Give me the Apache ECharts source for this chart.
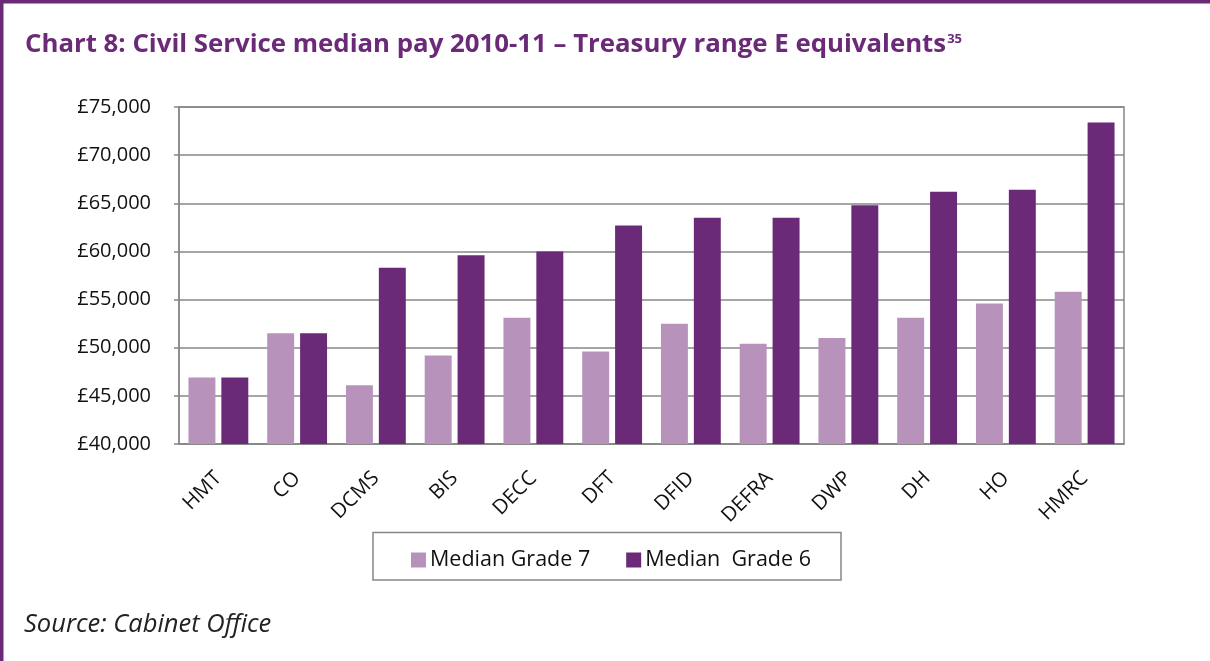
<!DOCTYPE html>
<html>
<head>
<meta charset="utf-8">
<script src="https://cdn.jsdelivr.net/npm/echarts@6/dist/echarts.min.js"></script>
<style>
html,body{margin:0;padding:0;background:#fff;}
#chart{width:1210px;height:661px;}
</style>
</head>
<body>
<div id="chart"></div>
<script>
const categories = ['HMT','CO','DCMS','BIS','DECC','DFT','DFID','DEFRA','DWP','DH','HO','HMRC'];
const grade7 = [46900, 51500, 46100, 49200, 53100, 49600, 52500, 50400, 51000, 53100, 54600, 55800];
const grade6 = [46900, 51500, 58300, 59600, 60000, 62700, 63500, 63500, 64800, 66200, 66400, 73400];
const seriesNames = ['Median Grade 7', 'Median  Grade 6'];
const yTicks = {min: 40000, max: 75000, interval: 5000};

const purple = '#6B2A78';
const lilac = '#B793BC';
const grey = '#878787';
const font = 'Open Sans';

const chart = echarts.init(document.getElementById('chart'));
chart.setOption({
  animation: false,
  backgroundColor: '#fff',
  textStyle: {fontFamily: font},
  title: {
    left: 20, top: 27,
    text: '{t|Chart 8: Civil Service median pay 2010-11 \u2013 Treasury range E equivalents}{s|35}',
    textStyle: {
      rich: {
        t: {fontFamily: font, fontSize: 25.8, fontWeight: 'bold', color: purple, verticalAlign: 'bottom'},
        s: {fontFamily: font, fontSize: 13, fontWeight: 'bold', color: purple, verticalAlign: 'bottom', padding: [0,0,12,1]}
      }
    }
  },
  grid: {left: 179, top: 107, right: 86, bottom: 217, show: true, borderColor: grey, borderWidth: 1.5, containLabel: false},
  legend: {
    left: 406, top: 544,
    itemWidth: 15, itemHeight: 15, itemGap: 36,
    icon: 'rect',
    textStyle: {fontFamily: font, fontSize: 21.5, color: '#111', padding: [0,0,0,-1]},
    data: seriesNames
  },
  xAxis: {
    type: 'category',
    data: categories,
    axisLine: {lineStyle: {color: grey, width: 1.5}},
    axisTick: {show: false},
    axisLabel: {rotate: 45, fontSize: 20.5, color: '#111', margin: 31, interval: 0, fontFamily: font}
  },
  yAxis: {
    type: 'value',
    min: yTicks.min, max: yTicks.max, interval: yTicks.interval,
    axisLine: {show: true, lineStyle: {color: grey, width: 1.5}},
    axisTick: {show: true, length: 5, lineStyle: {color: grey, width: 1.5}},
    splitLine: {lineStyle: {color: grey, width: 1.5}},
    axisLabel: {
      fontSize: 20, color: '#111', margin: 28, fontFamily: font,
      formatter: v => '\u00a3' + v.toLocaleString('en-GB')
    }
  },
  series: [
    {name: seriesNames[0], type: 'bar', data: grade7, itemStyle: {color: lilac}, barGap: '22%', barCategoryGap: '24%'},
    {name: seriesNames[1], type: 'bar', data: grade6, itemStyle: {color: purple}, barGap: '22%', barCategoryGap: '24%'}
  ],
  graphic: [
    {type: 'rect', shape: {x: 0, y: 0, width: 1210, height: 3.5}, style: {fill: purple}, z: 100},
    {type: 'rect', shape: {x: 0, y: 0, width: 3.5, height: 661}, style: {fill: purple}, z: 100},
    {type: 'rect', shape: {x: 373, y: 532.5, width: 468, height: 47.5}, style: {fill: 'none', stroke: grey, lineWidth: 1.5}, z: 100},
    {type: 'text', left: 24, top: 612, style: {text: 'Source: Cabinet Office', fontFamily: font, fontStyle: 'italic', fontSize: 25.5, letterSpacing: 1.5, fill: '#222'}}
  ]
});
</script>
</body>
</html>
